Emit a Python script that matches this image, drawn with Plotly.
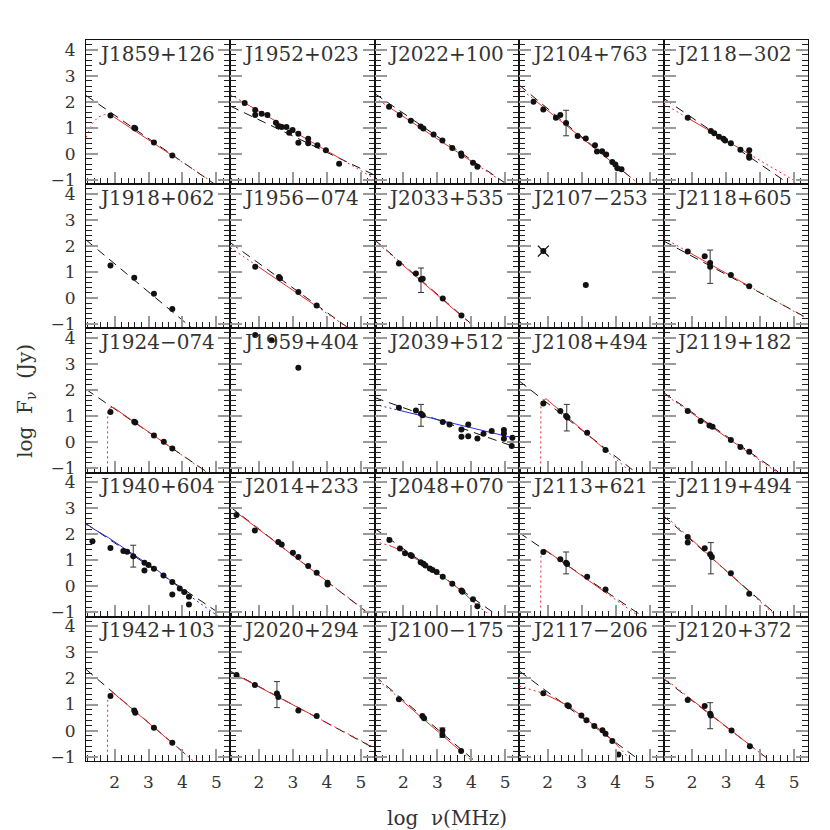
import numpy as np
import plotly.graph_objects as go
from plotly.subplots import make_subplots

# panel order, row by row
NAMES = [
    "J1859+126", "J1952+023", "J2022+100", "J2104+763", "J2118−302",
    "J1918+062", "J1956−074", "J2033+535", "J2107−253", "J2118+605",
    "J1924−074", "J1959+404", "J2039+512", "J2108+494", "J2119+182",
    "J1940+604", "J2014+233", "J2048+070", "J2113+621", "J2119+494",
    "J1942+103", "J2020+294", "J2100−175", "J2117−206", "J2120+372",
]

# log frequency (MHz) of each measurement
FREQ = {
    "J1859+126": [1.88, 2.58, 2.61, 3.16, 3.70],
    "J1952+023": [1.58, 1.89, 1.89, 2.08, 2.25, 2.50, 2.57, 2.67, 2.81, 2.89, 2.99,
                  3.16, 3.16, 3.45, 3.45, 3.72, 3.97, 4.36],
    "J2022+100": [1.58, 1.89, 2.22, 2.51, 2.59, 2.89, 3.15, 3.44, 3.70, 3.71, 4.05, 4.18],
    "J2104+763": [1.58, 1.87, 2.24, 2.37, 2.54, 2.88, 3.12, 3.39, 3.45, 3.60, 3.72,
                  3.90, 3.99, 4.05, 4.17],
    "J2118−302": [1.87, 2.55, 2.65, 2.79, 2.92, 2.97, 3.14, 3.42, 3.68, 3.68, 3.68],
    "J1918+062": [1.88, 2.58, 3.16, 3.70],
    "J1956−074": [1.89, 2.59, 2.62, 3.16, 3.70],
    "J2033+535": [1.87, 2.37, 2.52, 2.57, 3.16, 3.71],
    "J2107−253": [3.12],
    "J2118+605": [1.87, 2.37, 2.53, 2.53, 3.14, 3.68],
    "J1924−074": [1.88, 2.58, 2.61, 3.16, 3.45, 3.70],
    "J1959+404": [1.89, 2.37, 3.16],
    "J2039+512": [1.87, 2.37, 2.52, 2.57, 3.16, 3.36, 3.71, 3.71, 3.91, 3.91, 4.18,
                  4.36, 4.60, 4.96, 4.96, 4.96, 5.21, 5.19],
    "J2108+494": [1.87, 2.37, 2.54, 2.58, 3.16, 3.70],
    "J2119+182": [1.87, 2.25, 2.51, 2.60, 3.14, 3.42, 3.68],
    "J1940+604": [1.35, 1.88, 2.26, 2.37, 2.55, 2.88, 2.88, 3.00, 3.16, 3.44, 3.70,
                  3.70, 3.92, 4.05, 4.19, 4.19],
    "J2014+233": [1.34, 1.88, 2.57, 2.67, 3.00, 3.16, 3.45, 3.70, 4.02, 4.02],
    "J2048+070": [1.59, 1.90, 2.05, 2.21, 2.25, 2.51, 2.59, 2.65, 2.78, 2.86, 2.98,
                  3.16, 3.44, 3.71, 3.74, 4.05, 4.18],
    "J2113+621": [1.87, 2.37, 2.54, 2.57, 3.16, 3.70],
    "J2119+494": [1.87, 1.87, 2.37, 2.53, 2.58, 3.14, 3.68],
    "J1942+103": [1.88, 2.58, 2.61, 3.16, 3.70],
    "J2020+294": [1.34, 1.88, 2.53, 2.57, 3.16, 3.70],
    "J2100−175": [1.87, 2.56, 2.61, 3.15, 3.15, 3.70],
    "J2117−206": [1.87, 2.58, 2.62, 2.99, 3.14, 3.37, 3.61, 3.70, 3.90, 4.08],
    "J2120+372": [1.87, 2.37, 2.53, 2.55, 3.16, 3.70],
}

# log flux density (Jy)
FLUX = {
    "J1859+126": [1.47, 1.00, 0.97, 0.43, -0.07],
    "J1952+023": [1.95, 1.68, 1.49, 1.54, 1.49, 1.19, 1.06, 1.03, 1.03, 0.81, 0.91,
                  0.77, 0.42, 0.58, 0.40, 0.33, 0.13, -0.38],
    "J2022+100": [1.81, 1.49, 1.27, 1.05, 0.97, 0.74, 0.51, 0.22, 0.01, -0.08, -0.35, -0.50],
    "J2104+763": [2.00, 1.70, 1.38, 1.49, 1.18, 0.68, 0.59, 0.33, 0.09, 0.10, -0.03,
                  -0.32, -0.41, -0.56, -0.60],
    "J2118−302": [1.38, 0.87, 0.79, 0.65, 0.58, 0.51, 0.40, 0.15, 0.13, -0.09, -0.15],
    "J1918+062": [1.25, 0.78, 0.16, -0.42],
    "J1956−074": [1.20, 0.80, 0.76, 0.23, -0.29],
    "J2033+535": [1.32, 0.94, 0.71, 0.74, -0.02, -0.67],
    "J2107−253": [0.50],
    "J2118+605": [1.78, 1.60, 1.34, 1.20, 0.88, 0.45],
    "J1924−074": [1.16, 0.78, 0.75, 0.26, 0.02, -0.24],
    "J1959+404": [4.12, 3.91, 2.86],
    "J2039+512": [1.32, 1.22, 1.09, 1.03, 0.77, 0.68, 0.49, 0.21, 0.68, 0.23, 0.14,
                  0.32, 0.43, 0.47, 0.33, 0.13, 0.17, -0.15],
    "J2108+494": [1.48, 1.20, 1.00, 0.95, 0.36, -0.30],
    "J2119+182": [1.20, 0.81, 0.64, 0.59, 0.08, -0.19, -0.37],
    "J1940+604": [1.73, 1.47, 1.36, 1.33, 1.16, 0.91, 0.61, 0.82, 0.68, 0.42, 0.17,
                  -0.31, -0.08, -0.22, -0.40, -0.70],
    "J2014+233": [2.74, 2.15, 1.70, 1.61, 1.29, 1.13, 0.78, 0.52, 0.07, 0.14],
    "J2048+070": [1.78, 1.45, 1.27, 1.20, 1.17, 0.93, 0.87, 0.80, 0.69, 0.63, 0.55,
                  0.37, 0.10, -0.16, -0.21, -0.50, -0.76],
    "J2113+621": [1.32, 1.04, 0.91, 0.86, 0.37, -0.12],
    "J2119+494": [1.90, 1.68, 1.46, 1.23, 1.13, 0.50, -0.28],
    "J1942+103": [1.33, 0.77, 0.68, 0.11, -0.47],
    "J2020+294": [2.13, 1.75, 1.42, 1.29, 0.77, 0.56],
    "J2100−175": [1.20, 0.56, 0.47, 0.00, -0.17, -0.79],
    "J2117−206": [1.43, 0.97, 0.93, 0.58, 0.40, 0.17, 0.01, -0.12, -0.40, -0.92],
    "J2120+372": [1.17, 0.94, 0.65, 0.58, 0.00, -0.60],
}

# one error bar per panel: (log freq, log flux, half-length)
ERRBARS = {
    "J2104+763": (2.54, 1.18, 0.49),
    "J2033+535": (2.52, 0.68, 0.47),
    "J2118+605": (2.53, 1.20, 0.64),
    "J2039+512": (2.52, 1.03, 0.42),
    "J2108+494": (2.56, 0.94, 0.51),
    "J1940+604": (2.55, 1.16, 0.42),
    "J2113+621": (2.54, 0.90, 0.42),
    "J2119+494": (2.55, 1.08, 0.60),
    "J2020+294": (2.53, 1.38, 0.50),
    "J2120+372": (2.53, 0.57, 0.50),
    "J2100−175": (3.15, -0.08, 0.18),
}

# upper-limit style cross
CROSS = {"J2107−253": (1.87, 1.80)}

# black dashed power law: (x0, y0, x1, y1)
DASH = {
    "J1859+126": (1.16, 2.24, 4.95, -1.17),
    "J1952+023": (1.16, 1.83, 5.37, -0.80),
    "J2022+100": (1.16, 2.31, 4.99, -1.12),
    "J2104+763": (1.16, 2.64, 4.57, -1.05),
    "J2118−302": (1.16, 2.13, 4.73, -1.05),
    "J1918+062": (1.16, 2.23, 4.27, -1.15),
    "J1956−074": (1.16, 2.12, 4.63, -1.15),
    "J2033+535": (1.16, 2.23, 4.02, -1.02),
    "J2118+605": (1.16, 2.19, 5.37, -0.76),
    "J1924−074": (1.16, 2.03, 4.71, -1.14),
    "J2039+512": (1.16, 1.71, 5.21, -0.15),
    "J2108+494": (1.16, 2.35, 4.57, -1.14),
    "J2119+182": (1.16, 1.90, 4.53, -1.14),
    "J1940+604": (1.16, 2.41, 5.25, -1.18),
    "J2014+233": (1.16, 3.05, 5.32, -1.14),
    "J2048+070": (1.16, 2.22, 4.65, -1.01),
    "J2113+621": (1.16, 2.06, 4.71, -1.08),
    "J2119+494": (1.16, 2.70, 4.48, -1.09),
    "J1942+103": (1.16, 2.35, 4.22, -1.05),
    "J2020+294": (1.16, 2.28, 5.36, -0.66),
    "J2100−175": (1.16, 2.10, 4.05, -1.11),
    "J2117−206": (1.16, 2.29, 4.61, -1.05),
    "J2120+372": (1.16, 1.99, 4.19, -1.05),
}

# red model curves (vertices)
RED_X = {
    "J1859+126": [1.16, 1.32, 1.52, 1.70, 1.85, 1.95, 3.70, 4.77],
    "J1952+023": [1.16, 5.37],
    "J2022+100": [1.16, 4.89],
    "J2104+763": [1.16, 4.60],
    "J2118−302": [1.16, 5.03],
    "J1956−074": [1.16, 4.65],
    "J2033+535": [1.16, 4.05],
    "J2118+605": [1.16, 5.37],
    "J1924−074": [1.79, 1.80, 1.84, 1.90, 1.97, 4.72],
    "J2108+494": [1.79, 1.80, 1.86, 1.95, 4.45],
    "J2119+182": [1.16, 4.48],
    "J2014+233": [1.16, 5.32],
    "J2048+070": [1.16, 1.59, 1.90, 2.51, 3.16, 3.71, 4.18, 4.49],
    "J2113+621": [1.79, 1.80, 1.86, 1.93, 4.61],
    "J2119+494": [1.16, 4.43],
    "J1942+103": [1.79, 1.80, 1.88, 1.96, 4.32],
    "J2020+294": [1.16, 5.36],
    "J2100−175": [1.16, 3.97],
    "J2117−206": [1.16, 1.87, 2.58, 3.14, 3.70, 3.90, 4.47],
    "J2120+372": [1.16, 4.24],
}
RED_Y = {
    "J1859+126": [0.62, 1.13, 1.41, 1.50, 1.49, 1.44, -0.07, -0.99],
    "J1952+023": [2.27, -0.93],
    "J2022+100": [2.15, -1.05],
    "J2104+763": [2.54, -1.07],
    "J2118−302": [1.92, -1.05],
    "J1956−074": [1.93, -1.17],
    "J2033+535": [2.20, -1.08],
    "J2118+605": [2.30, -0.79],
    "J1924−074": [-1.20, 1.15, 1.28, 1.33, 1.33, -1.17],
    "J2108+494": [-1.20, 1.40, 1.58, 1.67, -1.15],
    "J2119+182": [1.86, -1.14],
    "J2014+233": [3.02, -1.12],
    "J2048+070": [1.72, 1.57, 1.40, 0.95, 0.37, -0.17, -0.74, -1.05],
    "J2113+621": [-1.20, 1.15, 1.34, 1.40, -1.08],
    "J2119+494": [2.77, -1.09],
    "J1942+103": [-1.20, 1.20, 1.42, 1.45, -1.17],
    "J2020+294": [2.25, -0.63],
    "J2100−175": [2.05, -1.11],
    "J2117−206": [1.71, 1.43, 0.97, 0.42, -0.12, -0.37, -1.17],
    "J2120+372": [2.03, -1.11],
}

# blue model curves
BLUE_X = {
    "J2039+512": [1.16, 5.21],
    "J1940+604": [1.16, 1.82, 2.55, 3.29, 4.22, 5.05],
}
BLUE_Y = {
    "J2039+512": [1.45, 0.17],
    "J1940+604": [2.38, 1.87, 1.23, 0.59, -0.37, -1.15],
}

X_RANGE = [1.16, 5.41]
Y_RANGE = [-1.17, 4.37]

FONT = "DejaVu Serif"
RED = "#ee2a2a"
BLUE = "#2a2aee"
INK = "#111111"


def split_curve(xs, ys, lo, hi):
    """Cut a model curve into dotted-left, solid (data range) and dotted-right parts."""
    xs = np.asarray(xs, float)
    ys = np.asarray(ys, float)
    lo = max(lo, xs[0])
    hi = min(hi, xs[-1])
    ylo = float(np.interp(lo, xs, ys))
    yhi = float(np.interp(hi, xs, ys))
    left = ([*xs[xs < lo], lo], [*ys[xs < lo], ylo])
    inner = (xs > lo) & (xs < hi)
    mid = ([lo, *xs[inner], hi], [ylo, *ys[inner], yhi])
    right = ([hi, *xs[xs > hi]], [yhi, *ys[xs > hi]])
    return left, mid, right


fig = make_subplots(rows=5, cols=5, horizontal_spacing=0, vertical_spacing=0)


def add_model(xs, ys, lo, hi, color, row, col):
    left, mid, right = split_curve(xs, ys, lo, hi)
    for part, dash in ((left, "2px,3px"), (right, "2px,3px"), (mid, "solid")):
        if len(part[0]) < 2:
            continue
        fig.add_trace(go.Scatter(x=part[0], y=part[1], mode="lines",
                                 line=dict(color=color, width=1, dash=dash),
                                 hoverinfo="skip", showlegend=False),
                      row=row, col=col)


for i, name in enumerate(NAMES):
    row, col = i // 5 + 1, i % 5 + 1
    fx, fy = FREQ[name], FLUX[name]
    lo, hi = min(fx), max(fx)

    if name in DASH:
        x0, y0, x1, y1 = DASH[name]
        fig.add_trace(go.Scatter(x=[x0, x1], y=[y0, y1], mode="lines",
                                 line=dict(color=INK, width=1, dash="9px,6px"),
                                 hoverinfo="skip", showlegend=False),
                      row=row, col=col)
    if name in RED_X:
        add_model(RED_X[name], RED_Y[name], lo, hi, RED, row, col)
    if name in BLUE_X:
        add_model(BLUE_X[name], BLUE_Y[name], lo, hi, BLUE, row, col)
    if name in ERRBARS:
        ex, ey, ee = ERRBARS[name]
        fig.add_trace(go.Scatter(x=[ex], y=[ey], mode="markers",
                                 marker=dict(size=1, color=INK),
                                 error_y=dict(type="constant", value=ee, color="#333",
                                              thickness=1, width=3),
                                 hoverinfo="skip", showlegend=False),
                      row=row, col=col)
    if name in CROSS:
        cx, cy = CROSS[name]
        fig.add_trace(go.Scatter(x=[cx], y=[cy], mode="markers",
                                 marker=dict(symbol="x-thin", size=11,
                                             line=dict(width=1.3, color=INK)),
                                 hoverinfo="skip", showlegend=False),
                      row=row, col=col)
        fig.add_trace(go.Scatter(x=[cx], y=[cy], mode="markers",
                                 marker=dict(size=6, color=INK),
                                 hoverinfo="skip", showlegend=False),
                      row=row, col=col)
    fig.add_trace(go.Scatter(x=fx, y=fy, mode="markers",
                             marker=dict(size=6, color=INK),
                             hoverinfo="skip", showlegend=False),
                  row=row, col=col)

    n = "" if i == 0 else str(i + 1)
    fig.add_annotation(text=name, xref=f"x{n} domain", yref=f"y{n} domain",
                       x=0.075, y=0.905, xanchor="left", yanchor="middle",
                       showarrow=False, font=dict(family=FONT, size=20, color="#333"))

tickfont = dict(family=FONT, size=17, color="#333")
fig.update_xaxes(range=X_RANGE, showgrid=False, zeroline=False,
                 showline=True, linecolor=INK, linewidth=1, mirror=True,
                 ticks="inside", ticklen=12, tickwidth=1.5, tickcolor="#999",
                 tick0=0, dtick=1, showticklabels=False,
                 minor=dict(ticks="inside", ticklen=6, tickwidth=1, tickcolor="#222",
                            dtick=0.2, tick0=0, showgrid=False))
fig.update_yaxes(range=Y_RANGE, showgrid=False, zeroline=False,
                 showline=True, linecolor=INK, linewidth=1, mirror="ticks",
                 ticks="inside", ticklen=12, tickwidth=1.5, tickcolor="#999",
                 tick0=0, dtick=1, showticklabels=False,
                 minor=dict(ticks="inside", ticklen=6, tickwidth=1, tickcolor="#222",
                            dtick=0.2, tick0=0, showgrid=False))
fig.update_xaxes(row=5, showticklabels=True, tickfont=tickfont, ticklabelstandoff=6)
fig.update_yaxes(col=1, showticklabels=True, tickfont=tickfont, ticklabelstandoff=6)

fig.add_annotation(text="log  ν(MHz)", xref="paper", yref="paper", x=0.5, y=-0.079,
                   xanchor="center", yanchor="middle", showarrow=False,
                   font=dict(family=FONT, size=20, color="#333"))
fig.add_annotation(text="log  F<sub>ν</sub>  (Jy)", xref="paper", yref="paper",
                   x=-0.084, y=0.5, textangle=-90, xanchor="center", yanchor="middle",
                   showarrow=False, font=dict(family=FONT, size=20, color="#333"))

fig.update_layout(width=830, height=830, plot_bgcolor="white", paper_bgcolor="white",
                  margin=dict(l=78, r=30, t=32, b=77), showlegend=False)

fig.write_html("out.html")
